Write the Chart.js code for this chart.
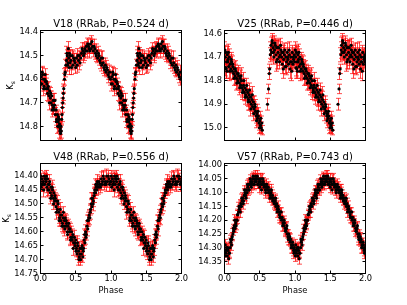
<!DOCTYPE html>
<html><head><meta charset="utf-8">
<script src="https://cdn.jsdelivr.net/npm/chart.js@4"></script>
<style>
html,body{margin:0;padding:0;background:#fff;}
#wrap{position:relative;width:407px;height:305px;overflow:hidden;background:#fff;}
canvas{position:absolute;left:0;top:0;}
</style></head><body>
<div id="wrap">
<canvas id="c1" width="407" height="305"></canvas>
<canvas id="c2" width="407" height="305"></canvas>
<canvas id="c3" width="407" height="305"></canvas>
<canvas id="c4" width="407" height="305"></canvas>
</div>
<script>
// ---------- data: [phase, Ks magnitude, error] (each plotted at phase and phase+1) ----------
const phaseTicks = [0, 0.5, 1, 1.5, 2];
const v18Ticks = [14.4, 14.5, 14.6, 14.7, 14.8];
const v25Ticks = [14.6, 14.7, 14.8, 14.9, 15.0];
const v48Ticks = [14.40, 14.45, 14.50, 14.55, 14.60, 14.65, 14.70, 14.75];
const v57Ticks = [14.00, 14.05, 14.10, 14.15, 14.20, 14.25, 14.30, 14.35];
const titles = ['V18 (RRab, P=0.524 d)', 'V25 (RRab, P=0.446 d)', 'V48 (RRab, P=0.556 d)', 'V57 (RRab, P=0.743 d)'];

const v18 = [[0.01,14.59,0.025],[0.02,14.62,0.02],[0.03,14.58,0.03],[0.04,14.60,0.025],[0.05,14.63,0.02],[0.06,14.60,0.025],[0.07,14.61,0.03],[0.08,14.64,0.02],[0.09,14.62,0.025],[0.10,14.66,0.03],[0.11,14.63,0.02],[0.12,14.67,0.025],[0.13,14.65,0.02],[0.14,14.68,0.03],[0.15,14.70,0.025],[0.16,14.67,0.02],[0.17,14.71,0.025],[0.18,14.69,0.03],[0.19,14.73,0.02],[0.20,14.71,0.025],[0.21,14.75,0.03],[0.22,14.73,0.02],[0.23,14.77,0.025],[0.24,14.75,0.02],[0.25,14.78,0.03],[0.26,14.80,0.025],[0.265,14.77,0.02],[0.27,14.79,0.02],[0.275,14.82,0.03],[0.28,14.81,0.025],[0.285,14.83,0.025],[0.29,14.80,0.02],[0.30,14.77,0.025],[0.305,14.75,0.03],[0.31,14.72,0.02],[0.315,14.70,0.02],[0.32,14.68,0.025],[0.33,14.64,0.02],[0.34,14.60,0.025],[0.35,14.57,0.02],[0.36,14.54,0.025],[0.37,14.52,0.03],[0.38,14.50,0.025],[0.39,14.53,0.02],[0.40,14.51,0.03],[0.41,14.49,0.025],[0.42,14.53,0.02],[0.43,14.52,0.03],[0.45,14.50,0.025],[0.46,14.54,0.02],[0.48,14.52,0.03],[0.49,14.53,0.025],[0.51,14.51,0.02],[0.52,14.54,0.03],[0.54,14.52,0.025],[0.55,14.50,0.02],[0.57,14.51,0.03],[0.58,14.49,0.025],[0.60,14.48,0.02],[0.62,14.49,0.03],[0.63,14.47,0.025],[0.65,14.46,0.02],[0.66,14.48,0.025],[0.68,14.46,0.03],[0.69,14.47,0.02],[0.71,14.45,0.025],[0.72,14.47,0.02],[0.74,14.46,0.03],[0.75,14.48,0.025],[0.77,14.47,0.02],[0.78,14.49,0.025],[0.80,14.48,0.03],[0.81,14.51,0.02],[0.83,14.50,0.025],[0.84,14.52,0.02],[0.86,14.51,0.03],[0.87,14.54,0.025],[0.89,14.53,0.02],[0.90,14.55,0.025],[0.92,14.54,0.03],[0.93,14.57,0.02],[0.95,14.56,0.025],[0.96,14.58,0.02],[0.98,14.57,0.03],[0.99,14.60,0.025],
[0.005,14.62,0.03],[0.025,14.57,0.025],[0.045,14.64,0.03],[0.065,14.58,0.025],[0.085,14.61,0.03],[0.105,14.64,0.025],[0.125,14.70,0.03],[0.145,14.66,0.025],[0.165,14.73,0.03],[0.185,14.72,0.025],[0.205,14.69,0.03],[0.225,14.78,0.025],[0.245,14.80,0.03],[0.255,14.76,0.025],[0.295,14.82,0.03],[0.325,14.66,0.03],[0.345,14.58,0.025],[0.375,14.49,0.03],[0.385,14.54,0.025],[0.395,14.47,0.03],[0.405,14.55,0.03],[0.425,14.50,0.025],[0.44,14.55,0.03],[0.47,14.51,0.03],[0.50,14.55,0.025],[0.53,14.50,0.03],[0.56,14.53,0.03],[0.59,14.47,0.025],[0.61,14.50,0.03],[0.64,14.48,0.03],[0.67,14.45,0.025],[0.70,14.48,0.03],[0.73,14.44,0.025],[0.76,14.46,0.03],[0.79,14.50,0.025],[0.82,14.49,0.03],[0.85,14.53,0.025],[0.88,14.51,0.03],[0.91,14.56,0.025],[0.94,14.55,0.03],[0.97,14.59,0.025]];

const v25 = [[0.01,14.70,0.03],[0.015,14.745,0.035],[0.02,14.68,0.03],[0.03,14.72,0.04],[0.035,14.76,0.03],[0.04,14.69,0.035],[0.05,14.71,0.03],[0.06,14.74,0.025],[0.07,14.70,0.035],[0.08,14.73,0.03],[0.09,14.75,0.04],[0.10,14.72,0.03],[0.11,14.76,0.035],[0.12,14.74,0.03],[0.13,14.77,0.025],[0.14,14.75,0.03],[0.15,14.78,0.035],[0.16,14.76,0.03],[0.17,14.79,0.03],[0.18,14.77,0.025],[0.19,14.80,0.035],[0.20,14.78,0.03],[0.21,14.81,0.03],[0.22,14.79,0.035],[0.23,14.82,0.03],[0.24,14.80,0.025],[0.25,14.83,0.035],[0.26,14.84,0.03],[0.27,14.82,0.03],[0.28,14.85,0.035],[0.29,14.83,0.03],[0.30,14.86,0.025],[0.31,14.84,0.03],[0.32,14.87,0.035],[0.33,14.85,0.03],[0.34,14.88,0.03],[0.35,14.86,0.025],[0.36,14.89,0.035],[0.37,14.87,0.03],[0.38,14.90,0.03],[0.39,14.88,0.035],[0.40,14.91,0.03],[0.41,14.89,0.025],[0.42,14.92,0.03],[0.43,14.90,0.035],[0.44,14.93,0.03],[0.45,14.95,0.03],[0.46,14.94,0.025],[0.47,14.96,0.03],[0.48,14.95,0.035],[0.49,14.98,0.03],[0.50,14.97,0.025],[0.51,14.99,0.03],[0.52,15.00,0.025],[0.53,14.98,0.03],[0.535,15.01,0.02],[0.61,14.90,0.025],[0.625,14.835,0.02],[0.635,14.77,0.025],[0.64,14.75,0.02],[0.65,14.69,0.03],[0.66,14.65,0.035],[0.67,14.68,0.03],[0.68,14.64,0.03],[0.69,14.66,0.035],[0.70,14.70,0.03],[0.71,14.67,0.04],[0.72,14.65,0.03],[0.73,14.69,0.035],[0.74,14.66,0.03],[0.75,14.71,0.04],[0.76,14.68,0.03],[0.77,14.66,0.035],[0.78,14.72,0.03],[0.79,14.69,0.03],[0.80,14.67,0.035],[0.81,14.70,0.03],[0.82,14.73,0.04],[0.83,14.68,0.03],[0.84,14.71,0.035],[0.85,14.69,0.03],[0.86,14.74,0.03],[0.87,14.70,0.035],[0.88,14.72,0.03],[0.89,14.68,0.04],[0.90,14.71,0.03],[0.91,14.73,0.035],[0.92,14.69,0.03],[0.93,14.75,0.04],[0.94,14.70,0.03],[0.95,14.72,0.035],[0.96,14.68,0.03],[0.97,14.73,0.03],[0.98,14.71,0.035],[0.99,14.69,0.03],
[0.005,14.67,0.035],[0.025,14.75,0.04],[0.045,14.72,0.03],[0.055,14.68,0.035],[0.075,14.76,0.04],[0.095,14.71,0.03],[0.115,14.73,0.035],[0.135,14.79,0.03],[0.155,14.75,0.035],[0.175,14.81,0.03],[0.195,14.77,0.035],[0.215,14.83,0.03],[0.235,14.78,0.035],[0.255,14.85,0.03],[0.275,14.80,0.035],[0.295,14.87,0.03],[0.315,14.82,0.03],[0.335,14.89,0.035],[0.355,14.84,0.03],[0.375,14.92,0.03],[0.395,14.86,0.035],[0.415,14.94,0.03],[0.435,14.91,0.03],[0.455,14.97,0.03],[0.475,14.93,0.03],[0.495,15.00,0.025],[0.515,14.96,0.03],[0.655,14.67,0.035],[0.675,14.63,0.03],[0.695,14.68,0.035],[0.715,14.64,0.03],[0.735,14.72,0.04],[0.755,14.66,0.03],[0.775,14.70,0.035],[0.795,14.65,0.03],[0.815,14.68,0.035],[0.835,14.75,0.04],[0.855,14.67,0.03],[0.875,14.74,0.035],[0.895,14.70,0.03],[0.915,14.67,0.035],[0.935,14.72,0.03],[0.955,14.76,0.04],[0.975,14.70,0.035],[0.995,14.72,0.03]];

const v48 = [[0.00,14.42,0.02],[0.01,14.44,0.015],[0.02,14.41,0.02],[0.03,14.43,0.025],[0.04,14.42,0.02],[0.05,14.40,0.015],[0.06,14.43,0.02],[0.07,14.41,0.02],[0.08,14.42,0.025],[0.09,14.44,0.02],[0.10,14.41,0.015],[0.11,14.43,0.02],[0.12,14.45,0.02],[0.13,14.42,0.025],[0.14,14.46,0.02],[0.15,14.44,0.015],[0.16,14.47,0.02],[0.17,14.45,0.02],[0.18,14.48,0.025],[0.19,14.46,0.02],[0.20,14.49,0.015],[0.21,14.48,0.02],[0.22,14.51,0.02],[0.23,14.49,0.025],[0.24,14.52,0.02],[0.25,14.50,0.015],[0.26,14.53,0.02],[0.27,14.55,0.02],[0.28,14.52,0.025],[0.29,14.56,0.02],[0.30,14.54,0.015],[0.31,14.57,0.02],[0.32,14.55,0.02],[0.33,14.58,0.025],[0.34,14.56,0.02],[0.35,14.55,0.015],[0.36,14.58,0.02],[0.37,14.57,0.02],[0.38,14.60,0.025],[0.39,14.58,0.02],[0.40,14.57,0.015],[0.41,14.60,0.02],[0.42,14.59,0.02],[0.43,14.62,0.025],[0.44,14.60,0.02],[0.45,14.63,0.015],[0.46,14.61,0.02],[0.47,14.64,0.02],[0.48,14.62,0.025],[0.49,14.65,0.02],[0.50,14.63,0.015],[0.51,14.66,0.02],[0.52,14.68,0.02],[0.53,14.65,0.025],[0.54,14.67,0.02],[0.55,14.69,0.02],[0.56,14.66,0.025],[0.57,14.70,0.02],[0.58,14.68,0.025],[0.59,14.65,0.02],[0.60,14.69,0.02],[0.61,14.66,0.025],[0.62,14.63,0.02],[0.63,14.64,0.02],[0.64,14.60,0.025],[0.65,14.61,0.02],[0.66,14.58,0.02],[0.67,14.59,0.025],[0.68,14.56,0.02],[0.69,14.54,0.02],[0.70,14.55,0.025],[0.71,14.52,0.02],[0.72,14.50,0.02],[0.73,14.51,0.025],[0.74,14.48,0.02],[0.75,14.49,0.02],[0.76,14.47,0.025],[0.77,14.45,0.02],[0.78,14.46,0.02],[0.79,14.44,0.025],[0.80,14.45,0.02],[0.81,14.43,0.02],[0.82,14.44,0.025],[0.83,14.42,0.02],[0.84,14.43,0.02],[0.86,14.41,0.025],[0.87,14.43,0.02],[0.88,14.42,0.02],[0.90,14.41,0.025],[0.91,14.43,0.02],[0.92,14.42,0.02],[0.94,14.40,0.025],[0.95,14.42,0.02],[0.97,14.41,0.02],[0.98,14.43,0.025],[0.99,14.42,0.02],
[0.005,14.40,0.02],[0.025,14.43,0.02],[0.045,14.45,0.025],[0.065,14.41,0.02],[0.085,14.40,0.02],[0.105,14.45,0.025],[0.125,14.43,0.02],[0.145,14.48,0.02],[0.165,14.44,0.025],[0.185,14.50,0.02],[0.205,14.47,0.02],[0.225,14.53,0.025],[0.245,14.49,0.02],[0.265,14.56,0.02],[0.285,14.54,0.025],[0.305,14.58,0.02],[0.325,14.53,0.02],[0.345,14.59,0.025],[0.365,14.56,0.02],[0.385,14.61,0.02],[0.405,14.59,0.025],[0.425,14.63,0.02],[0.445,14.62,0.02],[0.465,14.66,0.025],[0.485,14.64,0.02],[0.505,14.67,0.02],[0.525,14.64,0.025],[0.545,14.70,0.02],[0.565,14.68,0.025],[0.585,14.66,0.02],[0.605,14.67,0.025],[0.625,14.61,0.02],[0.645,14.62,0.025],[0.665,14.56,0.02],[0.685,14.55,0.02],[0.705,14.53,0.025],[0.725,14.48,0.02],[0.745,14.50,0.025],[0.765,14.46,0.02],[0.785,14.43,0.02],[0.805,14.42,0.025],[0.85,14.44,0.02],[0.89,14.40,0.02],[0.93,14.43,0.025],[0.96,14.40,0.02]];

const v57 = [[0.00,14.31,0.015],[0.01,14.29,0.02],[0.02,14.32,0.015],[0.03,14.30,0.02],[0.04,14.33,0.015],[0.05,14.31,0.02],[0.06,14.34,0.02],[0.07,14.32,0.015],[0.08,14.30,0.02],[0.09,14.28,0.015],[0.10,14.29,0.02],[0.11,14.26,0.015],[0.12,14.25,0.02],[0.13,14.24,0.015],[0.14,14.22,0.02],[0.15,14.23,0.015],[0.16,14.21,0.02],[0.17,14.20,0.015],[0.18,14.20,0.012],[0.19,14.18,0.015],[0.20,14.17,0.02],[0.21,14.16,0.015],[0.22,14.15,0.02],[0.23,14.14,0.015],[0.24,14.15,0.02],[0.25,14.13,0.015],[0.26,14.12,0.02],[0.27,14.13,0.015],[0.28,14.11,0.02],[0.29,14.10,0.015],[0.30,14.11,0.02],[0.31,14.09,0.015],[0.32,14.10,0.02],[0.33,14.08,0.015],[0.34,14.07,0.02],[0.35,14.09,0.015],[0.36,14.07,0.02],[0.37,14.06,0.015],[0.38,14.08,0.02],[0.39,14.06,0.015],[0.40,14.05,0.02],[0.41,14.07,0.015],[0.42,14.05,0.02],[0.43,14.06,0.015],[0.44,14.04,0.02],[0.45,14.06,0.015],[0.46,14.05,0.02],[0.47,14.07,0.015],[0.48,14.05,0.02],[0.49,14.06,0.015],[0.50,14.08,0.02],[0.51,14.06,0.015],[0.52,14.07,0.02],[0.53,14.05,0.015],[0.54,14.07,0.02],[0.55,14.06,0.015],[0.56,14.08,0.02],[0.57,14.07,0.015],[0.58,14.09,0.02],[0.59,14.08,0.015],[0.60,14.07,0.02],[0.61,14.09,0.015],[0.62,14.08,0.02],[0.63,14.10,0.015],[0.64,14.09,0.02],[0.65,14.11,0.015],[0.66,14.10,0.02],[0.67,14.12,0.015],[0.68,14.11,0.02],[0.69,14.13,0.015],[0.70,14.12,0.02],[0.71,14.14,0.015],[0.72,14.13,0.02],[0.73,14.15,0.015],[0.74,14.14,0.02],[0.75,14.16,0.015],[0.76,14.15,0.02],[0.77,14.17,0.015],[0.78,14.18,0.02],[0.79,14.17,0.015],[0.80,14.19,0.02],[0.81,14.20,0.015],[0.82,14.19,0.02],[0.83,14.21,0.015],[0.84,14.22,0.02],[0.85,14.21,0.015],[0.86,14.23,0.02],[0.87,14.24,0.015],[0.88,14.23,0.02],[0.89,14.25,0.015],[0.90,14.26,0.02],[0.91,14.25,0.015],[0.92,14.27,0.02],[0.93,14.28,0.015],[0.94,14.27,0.02],[0.95,14.29,0.015],[0.96,14.30,0.02],[0.97,14.29,0.015],[0.98,14.31,0.02],[0.99,14.30,0.015],
[0.005,14.33,0.02],[0.025,14.31,0.02],[0.045,14.30,0.015],[0.065,14.32,0.02],[0.085,14.27,0.015],[0.105,14.27,0.02],[0.125,14.23,0.015],[0.145,14.20,0.02],[0.165,14.22,0.015],[0.185,14.18,0.02],[0.205,14.15,0.015],[0.225,14.17,0.02],[0.245,14.12,0.015],[0.265,14.14,0.02],[0.285,14.09,0.015],[0.305,14.12,0.02],[0.325,14.07,0.015],[0.345,14.09,0.02],[0.365,14.05,0.015],[0.385,14.07,0.02],[0.405,14.04,0.015],[0.425,14.07,0.02],[0.445,14.05,0.015],[0.465,14.04,0.02],[0.485,14.07,0.015],[0.505,14.05,0.02],[0.525,14.09,0.015],[0.545,14.05,0.02],[0.565,14.07,0.015],[0.585,14.10,0.02],[0.605,14.08,0.015],[0.625,14.10,0.02],[0.645,14.12,0.015],[0.665,14.09,0.02],[0.685,14.13,0.015],[0.705,14.14,0.02],[0.725,14.12,0.015],[0.745,14.17,0.02],[0.765,14.16,0.015],[0.785,14.19,0.02],[0.805,14.17,0.015],[0.825,14.22,0.02],[0.845,14.20,0.015],[0.865,14.24,0.02],[0.885,14.22,0.015],[0.905,14.27,0.02],[0.925,14.26,0.015],[0.945,14.30,0.02],[0.965,14.28,0.015],[0.985,14.32,0.02]];

// ---------- layout / style ----------
const FONT = '"DejaVu Sans", "Bitstream Vera Sans", sans-serif';
const W = 407, H = 305;
const panels = [
  {id:'c1', data:v18, title:titles[0], yMin:14.393, yMax:14.86, yTicks:v18Ticks, dec:1, box:{l:40.5,t:30.5,r:181.5,b:140.5}, xLab:false, yLab:13.2},
  {id:'c2', data:v25, title:titles[1], yMin:14.587, yMax:15.054, yTicks:v25Ticks, dec:1, box:{l:224.5,t:30.5,r:365.5,b:140.5}, xLab:false, yLab:null},
  {id:'c3', data:v48, title:titles[2], yMin:14.355, yMax:14.75, yTicks:v48Ticks, dec:2, box:{l:40.5,t:163.5,r:181.5,b:273.5}, xLab:true, yLab:9.3},
  {id:'c4', data:v57, title:titles[3], yMin:13.994, yMax:14.394, yTicks:v57Ticks, dec:2, box:{l:224.5,t:163.5,r:365.5,b:273.5}, xLab:true, yLab:null}
];

const decor = {
  id:'decor',
  beforeDatasetsDraw(chart){
    const ctx = chart.ctx, a = chart.chartArea, xs = chart.scales.x, ys = chart.scales.y;
    ctx.save();
    ctx.beginPath(); ctx.rect(a.left, a.top, a.right - a.left, a.bottom - a.top); ctx.clip();
    ctx.strokeStyle = 'rgba(255,0,0,0.7)'; ctx.lineWidth = 1;
    chart.data.datasets[0].data.forEach(p => {
      const x = Math.round(xs.getPixelForValue(p.x) - 0.5) + 0.5;
      const y1 = ys.getPixelForValue(p.y - p.e), y2 = ys.getPixelForValue(p.y + p.e);
      ctx.beginPath();
      ctx.moveTo(x, y1); ctx.lineTo(x, y2);
      ctx.moveTo(x - 2.5, y1); ctx.lineTo(x + 2.5, y1);
      ctx.moveTo(x - 2.5, y2); ctx.lineTo(x + 2.5, y2);
      ctx.stroke();
    });
    ctx.restore();
  },
  afterDatasetsDraw(chart, args, o){
    const ctx = chart.ctx, a = chart.chartArea, xs = chart.scales.x, ys = chart.scales.y;
    const p = o.panel;
    ctx.save();
    ctx.strokeStyle = '#000'; ctx.lineWidth = 1;
    ctx.strokeRect(a.left, a.top, a.right - a.left, a.bottom - a.top);
    const tl = 3;
    ctx.beginPath();
    phaseTicks.forEach(v => {
      const x = Math.round(xs.getPixelForValue(v) - 0.5) + 0.5;
      ctx.moveTo(x, a.bottom); ctx.lineTo(x, a.bottom - tl);
      ctx.moveTo(x, a.top); ctx.lineTo(x, a.top + tl);
    });
    p.yTicks.forEach(v => {
      const y = Math.round(ys.getPixelForValue(v) - 0.5) + 0.5;
      ctx.moveTo(a.left, y); ctx.lineTo(a.left + tl, y);
      ctx.moveTo(a.right, y); ctx.lineTo(a.right - tl, y);
    });
    ctx.stroke();
    ctx.fillStyle = '#000';
    ctx.textAlign = 'center'; ctx.textBaseline = 'alphabetic';
    ctx.font = '10px ' + FONT;
    ctx.fillText(p.title, (a.left + a.right) / 2, a.top - 3.3);
    if (p.xLab) {
      ctx.font = '8.3px ' + FONT;
      ctx.fillText('Phase', (a.left + a.right) / 2, 292.6);
    }
    if (p.yLab !== null) {
      const cy = (a.top + a.bottom) / 2;
      ctx.translate(p.yLab, cy);
      ctx.rotate(-Math.PI / 2);
      ctx.font = '8.3px ' + FONT;
      const kw = ctx.measureText('K').width;
      ctx.font = '6px ' + FONT;
      const sw = ctx.measureText('s').width;
      const tot = kw + sw;
      ctx.textAlign = 'left';
      ctx.font = '8.3px ' + FONT;
      ctx.fillText('K', -tot / 2, 0);
      ctx.font = '6px ' + FONT;
      ctx.fillText('s', -tot / 2 + kw, 2);
    }
    ctx.restore();
  }
};

panels.forEach(p => {
  const pts = [];
  p.data.forEach(d => {
    pts.push({x:d[0], y:d[1], e:d[2]});
    pts.push({x:d[0] + 1, y:d[1], e:d[2]});
  });
  const b = p.box;
  new Chart(document.getElementById(p.id), {
    type:'scatter',
    data:{datasets:[{data:pts, pointRadius:1.6, pointHoverRadius:1.6, pointBackgroundColor:'#000', pointBorderWidth:0, showLine:false}]},
    plugins:[decor],
    options:{
      responsive:false, animation:false, events:[],
      layout:{padding:{top:b.t, right:W - b.r, bottom:0, left:0}},
      plugins:{legend:{display:false}, tooltip:{enabled:false}, title:{display:false}, decor:{panel:p}},
      scales:{
        x:{type:'linear', min:0, max:2, position:'bottom',
          afterBuildTicks: s => { s.ticks = phaseTicks.map(v => ({value:v})); },
          afterFit: s => { s.height = H - b.b; },
          grid:{display:false, drawTicks:false}, border:{display:false},
          ticks:{display:p.xLab, autoSkip:false, maxRotation:0, padding:0, color:'#000', font:{family:FONT, size:8.3}, callback: v => Number(v).toFixed(1)}},
        y:{type:'linear', reverse:true, min:p.yMin, max:p.yMax, position:'left',
          afterBuildTicks: s => { s.ticks = p.yTicks.map(v => ({value:v})); },
          afterFit: s => { s.width = b.l; },
          grid:{display:false, drawTicks:false}, border:{display:false},
          ticks:{autoSkip:false, padding:2.5, color:'#000', font:{family:FONT, size:8.3}, callback: v => Number(v).toFixed(p.dec)}}
      }
    }
  });
});
</script>
</body></html>
